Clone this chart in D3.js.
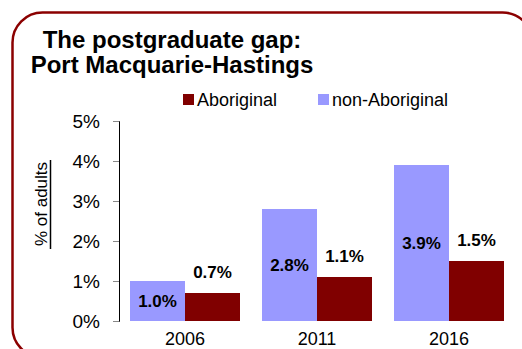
<!DOCTYPE html>
<html>
<head>
<meta charset="utf-8">
<script src="https://cdn.jsdelivr.net/npm/d3@7"></script>
<style>
  html, body { margin: 0; padding: 0; background: #fff; }
  svg { display: block; font-family: "Liberation Sans", Arial, sans-serif; }
</style>
</head>
<body>
<svg id="chart" width="522" height="349"></svg>
<script>
// Census years and share of adults holding a postgraduate degree
const years = ["2006", "2011", "2016"];
const nonAboriginal = [1.0, 2.8, 3.9];
const aboriginal = [0.7, 1.1, 1.5];
const seriesNames = ["non-Aboriginal", "Aboriginal"];
const yTicks = [0, 1, 2, 3, 4, 5];
const titleLines = ["The postgraduate gap:", "Port Macquarie-Hastings"];

const colors = { "non-Aboriginal": "#9999ff", "Aboriginal": "#800000" };
const frameColor = "#8b0000";

const svg = d3.select("#chart");

// rounded frame around the whole panel
svg.append("rect")
  .attr("x", 12.5).attr("y", 12.5)
  .attr("width", 520).attr("height", 345)
  .attr("rx", 30).attr("ry", 30)
  .attr("fill", "none")
  .attr("stroke", frameColor)
  .attr("stroke-width", 2.5);

// title
svg.append("g").selectAll("text")
  .data(titleLines)
  .join("text")
  .attr("x", 172)
  .attr("y", (d, i) => 48 + i * 25)
  .attr("text-anchor", "middle")
  .attr("font-weight", "bold")
  .attr("font-size", 24)
  .attr("fill", "#000")
  .text(d => d);

// scales
const x0 = d3.scaleBand().domain(years).range([119, 515]).paddingInner(1 / 6).paddingOuter(1 / 12);
const x1 = d3.scaleBand().domain(seriesNames).range([0, x0.bandwidth()]);
const y = d3.scaleLinear().domain([0, 5]).range([321, 121]);

// y axis
const yAxis = svg.append("g")
  .attr("transform", "translate(119,0)")
  .call(d3.axisLeft(y).tickValues(yTicks).tickSize(6).tickPadding(13).tickFormat(d => d + "%"));
yAxis.select(".domain").attr("stroke", "#000").attr("stroke-width", 1);
yAxis.selectAll(".tick line").attr("stroke", "#888");
yAxis.selectAll(".tick text")
  .attr("font-family", "Liberation Sans, Arial, sans-serif")
  .attr("font-size", 19)
  .attr("fill", "#000");

// y axis title, underlined
svg.append("text")
  .attr("transform", "translate(47,204) rotate(-90)")
  .attr("text-anchor", "middle")
  .attr("font-size", 17)
  .attr("fill", "#000")
  .text("% of adults");
svg.append("line")
  .attr("x1", 50.5).attr("x2", 50.5)
  .attr("y1", 160).attr("y2", 249)
  .attr("stroke", "#000").attr("stroke-width", 1.5);

// x axis labels (no axis line)
svg.append("g").selectAll("text")
  .data(years)
  .join("text")
  .attr("x", d => x0(d) + x0.bandwidth() / 2)
  .attr("y", 345)
  .attr("text-anchor", "middle")
  .attr("font-size", 18)
  .attr("fill", "#000")
  .text(d => d);

// grouped bars
const rows = years.map((yr, i) => ({
  year: yr,
  values: [
    { key: "non-Aboriginal", value: nonAboriginal[i] },
    { key: "Aboriginal", value: aboriginal[i] }
  ]
}));

const groups = svg.append("g").selectAll("g")
  .data(rows)
  .join("g")
  .attr("transform", d => `translate(${x0(d.year)},0)`);

groups.selectAll("rect")
  .data(d => d.values)
  .join("rect")
  .attr("x", d => x1(d.key))
  .attr("width", x1.bandwidth())
  .attr("y", d => y(d.value))
  .attr("height", d => y(0) - y(d.value))
  .attr("fill", d => colors[d.key]);

// value labels: inside (middle) for non-Aboriginal, above for Aboriginal
groups.selectAll("text")
  .data(d => d.values)
  .join("text")
  .attr("x", d => x1(d.key) + x1.bandwidth() / 2)
  .attr("y", d => d.key === "non-Aboriginal"
    ? (y(d.value) + y(0)) / 2 + 6
    : y(d.value) - 15)
  .attr("text-anchor", "middle")
  .attr("font-weight", "bold")
  .attr("font-size", 17)
  .attr("fill", "#000")
  .text(d => d.value.toFixed(1) + "%");

// legend
const legendItems = [
  { key: "Aboriginal", x: 183 },
  { key: "non-Aboriginal", x: 318 }
];
const legend = svg.append("g").selectAll("g")
  .data(legendItems)
  .join("g")
  .attr("transform", d => `translate(${d.x},94)`);
legend.append("rect")
  .attr("width", 11).attr("height", 11)
  .attr("fill", d => colors[d.key]);
legend.append("text")
  .attr("x", 14).attr("y", 12)
  .attr("font-size", 18)
  .attr("fill", "#000")
  .text(d => d.key);
</script>
</body>
</html>
